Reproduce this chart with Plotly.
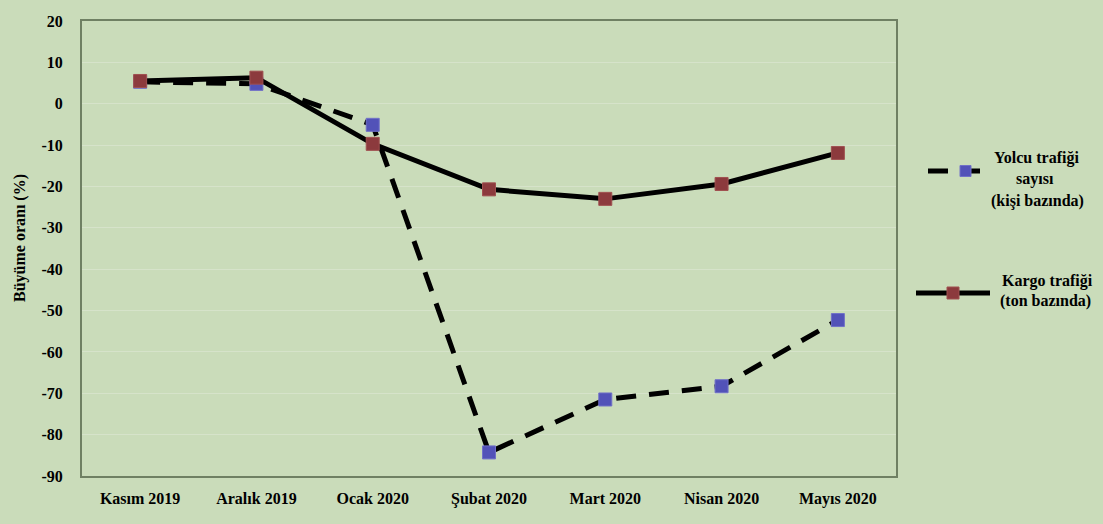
import plotly.graph_objects as go

# Monthly growth rates (%) of air traffic
months = ["Kasım 2019", "Aralık 2019", "Ocak 2020", "Şubat 2020",
          "Mart 2020", "Nisan 2020", "Mayıs 2020"]
yolcu = [5.3, 4.8, -5.1, -84.3, -71.5, -68.3, -52.3]
kargo = [5.5, 6.3, -9.7, -20.7, -23.0, -19.4, -11.9]
y_ticks = [20, 10, 0, -10, -20, -30, -40, -50, -60, -70, -80, -90]
y_tick_text = [str(v) for v in y_ticks]  # plain hyphen minus

BG = "#cadcba"
GRID = "#d6e3ca"
FRAME = "#6f8063"
RED = "#8c3a3d"
BLUE = "#5252b8"
FONT = "Liberation Serif, Times New Roman, serif"

# plot area in pixels
W, H = 1103, 524
L, R, T, B = 82, 896, 21, 476


def px(x):
    return (x - L) / (R - L)


def py(y):
    return (B - y) / (B - T)


fig = go.Figure()
fig.add_trace(go.Scatter(
    x=months, y=yolcu, mode="lines+markers", name="Yolcu trafiği",
    line=dict(color="black", width=5, dash="20px,13px"),
    marker=dict(symbol="square", size=13, color=BLUE,
                line=dict(color="#7070c8", width=1)),
))
fig.add_trace(go.Scatter(
    x=months, y=kargo, mode="lines+markers", name="Kargo trafiği",
    line=dict(color="black", width=5),
    marker=dict(symbol="square", size=13, color=RED,
                line=dict(color="#a05050", width=1)),
))

shapes = [
    # legend sample: passenger traffic (dashed)
    dict(type="line", xref="paper", yref="paper",
         x0=px(928), x1=px(985), y0=py(171), y1=py(171),
         line=dict(color="black", width=5, dash="20px,12px")),
    dict(type="rect", xref="paper", yref="paper",
         x0=px(960), x1=px(971), y0=py(176.5), y1=py(165.5),
         fillcolor=BLUE, line=dict(color="#7070c8", width=1)),
    # legend sample: cargo traffic (solid)
    dict(type="line", xref="paper", yref="paper",
         x0=px(916), x1=px(990), y0=py(293), y1=py(293),
         line=dict(color="black", width=5)),
    dict(type="rect", xref="paper", yref="paper",
         x0=px(947), x1=px(959), y0=py(299), y1=py(287),
         fillcolor=RED, line=dict(color="#a05050", width=1)),
]

text_font = dict(family=FONT, size=16, color="black")
annotations = [
    dict(text="<b>Büyüme oranı (%)</b>", textangle=-90, xref="paper", yref="paper",
         x=px(20), y=py(238), showarrow=False, xanchor="center", yanchor="middle",
         font=dict(family=FONT, size=16, color="black")),
    dict(text="<b>Yolcu trafiği</b>", xref="paper", yref="paper", x=px(1036), y=py(158),
         showarrow=False, xanchor="center", yanchor="middle", font=text_font),
    dict(text="<b>sayısı</b>", xref="paper", yref="paper", x=px(1035), y=py(179),
         showarrow=False, xanchor="center", yanchor="middle", font=text_font),
    dict(text="<b>(kişi bazında)</b>", xref="paper", yref="paper", x=px(1037), y=py(201),
         showarrow=False, xanchor="center", yanchor="middle", font=text_font),
    dict(text="<b>Kargo trafiği</b>", xref="paper", yref="paper", x=px(1047), y=py(281),
         showarrow=False, xanchor="center", yanchor="middle", font=text_font),
    dict(text="<b>(ton bazında)</b>", xref="paper", yref="paper", x=px(1045), y=py(301),
         showarrow=False, xanchor="center", yanchor="middle", font=text_font),
]

fig.update_layout(
    width=W, height=H,
    margin=dict(l=L, r=W - R, t=T, b=H - B),
    paper_bgcolor=BG, plot_bgcolor=BG,
    showlegend=False,
    shapes=shapes, annotations=annotations,
    font=dict(family=FONT, size=15, color="black"),
    xaxis=dict(
        type="category", range=[-0.5, 6.5],
        showgrid=False, zeroline=False,
        showline=True, linecolor=FRAME, linewidth=2, mirror=True,
        ticks="", ticklabelstandoff=7,
        tickfont=dict(family=FONT, size=16, color="black", weight="bold"),
    ),
    yaxis=dict(
        range=[-90, 20], tickvals=y_ticks, ticktext=y_tick_text,
        showgrid=True, gridcolor=GRID, gridwidth=1, zeroline=False,
        showline=True, linecolor=FRAME, linewidth=2, mirror=True,
        ticks="", ticklabelstandoff=14,
        tickfont=dict(family=FONT, size=16, color="black", weight="bold"),
    ),
)

fig.write_html("out.html")
